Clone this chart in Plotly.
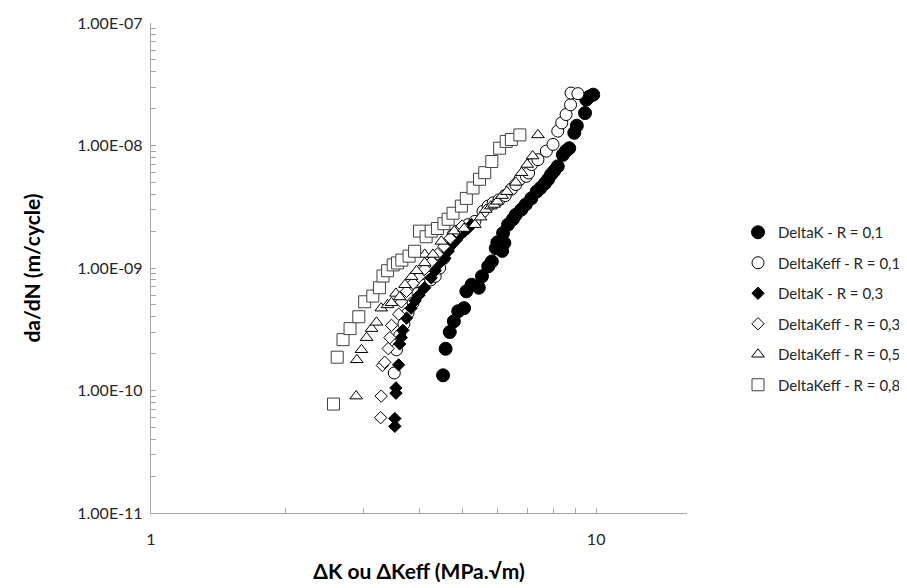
import math
import plotly.graph_objects as go

# ---- data ----
k01_x = [4.53,4.59,4.69,4.79,4.90,5.05,5.11,5.25,5.45,5.54,5.72,5.83,5.95,6.00,6.07,6.15,6.22,6.18,6.34,6.50,
         6.60,6.79,6.95,7.15,7.35,7.50,7.67,7.80,7.92,8.05,8.20,8.42,8.55,8.70,8.93,9.05,9.44,9.50,9.65,9.85]
k01_y = [1.33e-10,2.19e-10,3.0e-10,3.67e-10,4.44e-10,4.7e-10,6.45e-10,7.3e-10,6.9e-10,8.55e-10,1.03e-9,1.13e-9,
         1.45e-9,1.62e-9,1.55e-9,1.38e-9,1.6e-9,1.93e-9,2.26e-9,2.5e-9,2.72e-9,3.0e-9,3.3e-9,3.7e-9,4.2e-9,4.5e-9,
         4.9e-9,5.3e-9,5.8e-9,6.2e-9,6.76e-9,8.4e-9,9.0e-9,9.5e-9,1.27e-8,1.45e-8,1.84e-8,2.37e-8,2.5e-8,2.6e-8]

keff01_x = [3.52,3.56,3.62,3.70,3.78,3.88,3.98,4.10,4.25,4.35,4.45,4.55,4.65,4.77,4.90,5.00,5.16,5.34,5.57,5.72,
            5.87,6.05,6.25,6.45,6.60,6.74,6.97,7.05,7.16,7.40,7.73,8.00,8.20,8.37,8.56,8.76,8.78,9.10]
keff01_y = [1.39e-10,2.15e-10,2.8e-10,3.5e-10,4.3e-10,5.2e-10,6.2e-10,7.2e-10,8.0e-10,8.55e-10,1.0e-9,1.2e-9,
            1.45e-9,1.86e-9,2.0e-9,2.1e-9,2.26e-9,2.4e-9,2.9e-9,3.2e-9,3.4e-9,3.6e-9,3.9e-9,4.4e-9,4.8e-9,5.3e-9,
            5.6e-9,5.97e-9,7.0e-9,7.66e-9,9.0e-9,1.02e-8,1.31e-8,1.53e-8,1.79e-8,2.15e-8,2.68e-8,2.65e-8]

k03_x = [3.53,3.53,3.55,3.55,3.60,3.62,3.65,3.68,3.75,3.84,3.92,4.00,4.12,4.26,4.35,4.42,4.57,4.65,4.75,4.86,
         4.95,5.07,5.15,5.25]
k03_y = [5.1e-11,5.9e-11,9.5e-11,1.05e-10,1.62e-10,2.4e-10,2.7e-10,3.1e-10,3.9e-10,4.7e-10,5.4e-10,6.0e-10,
         6.9e-10,8.3e-10,9.5e-10,1.07e-9,1.2e-9,1.37e-9,1.55e-9,1.7e-9,1.85e-9,2.0e-9,2.1e-9,2.26e-9]

keff03_x = [3.28,3.29,3.31,3.35,3.41,3.44,3.47,3.60,3.65,3.75,3.88,4.00,4.12,4.27,4.40,4.55,4.70,4.85,5.00]
keff03_y = [6.0e-11,9.0e-11,1.6e-10,1.7e-10,2.2e-10,2.7e-10,3.4e-10,4.2e-10,5.3e-10,6.45e-10,7.5e-10,8.5e-10,
            9.8e-10,1.13e-9,1.3e-9,1.5e-9,1.75e-9,2.0e-9,2.2e-9]

keff05_x = [2.89,2.90,2.97,3.05,3.13,3.21,3.29,3.40,3.47,3.55,3.62,3.72,3.85,3.95,4.12,4.12,4.30,4.49,4.80,5.05,
            5.34,5.50,5.65,5.80,5.90,6.00,6.15,6.30,6.60,6.80,7.00,7.20,7.40]
keff05_y = [9.0e-11,1.78e-10,2.15e-10,2.7e-10,3.2e-10,3.6e-10,4.7e-10,5.0e-10,5.2e-10,6.2e-10,5.8e-10,7.3e-10,
            8.5e-10,9.5e-10,1.1e-9,1.29e-9,1.29e-9,1.65e-9,2.0e-9,2.1e-9,2.26e-9,2.6e-9,3.0e-9,3.2e-9,3.3e-9,
            3.5e-9,3.9e-9,4.2e-9,5.0e-9,6.0e-9,7.0e-9,8.2e-9,1.22e-8]

keff08_x = [2.57,2.62,2.70,2.80,2.93,3.02,3.15,3.26,3.32,3.40,3.50,3.58,3.66,3.80,3.91,4.01,4.15,4.26,4.40,4.55,
            4.65,4.77,4.98,5.11,5.29,5.47,5.62,5.83,6.07,6.28,6.45,6.74]
keff08_y = [7.75e-11,1.87e-10,2.6e-10,3.2e-10,4.0e-10,5.3e-10,5.9e-10,6.9e-10,8.6e-10,9.5e-10,1.06e-9,1.1e-9,
            1.16e-9,1.25e-9,1.37e-9,2.0e-9,1.8e-9,2.0e-9,2.1e-9,2.3e-9,2.5e-9,2.8e-9,3.2e-9,3.7e-9,4.5e-9,5.3e-9,
            6.0e-9,7.4e-9,9.5e-9,1.08e-8,1.12e-8,1.22e-8]

series_names = ["DeltaK - R = 0,1", "DeltaKeff - R = 0,1", "DeltaK - R = 0,3",
                "DeltaKeff - R = 0,3", "DeltaKeff - R = 0,5", "DeltaKeff - R = 0,8"]

y_tickvals = [1e-11, 1e-10, 1e-9, 1e-8, 1e-7]
y_ticktext = ["1.00E-11", "1.00E-10", "1.00E-09", "1.00E-08", "1.00E-07"]
x_tickvals = [1, 10]
x_ticktext = ["1", "10"]
x_max = 16

# ---- styles ----
styles = [
    dict(symbol="circle", size=13, color="black", line=dict(color="black", width=1)),
    dict(symbol="circle", size=12, color="white", line=dict(color="black", width=1)),
    dict(symbol="diamond", size=9.5, color="black", line=dict(color="black", width=1)),
    dict(symbol="diamond", size=9.5, color="white", line=dict(color="black", width=1)),
    dict(symbol="triangle-up", size=11, color="white", line=dict(color="black", width=1)),
    dict(symbol="square", size=12, color="white", line=dict(color="#404040", width=1)),
]
data = [(k01_x, k01_y), (keff01_x, keff01_y), (k03_x, k03_y),
        (keff03_x, keff03_y), (keff05_x, keff05_y), (keff08_x, keff08_y)]

fig = go.Figure()
for (xs, ys), name, st in zip(data, series_names, styles):
    fig.add_trace(go.Scatter(x=xs, y=ys, mode="markers", name=name, marker=st,
                             legendgroup=name))

FONT = "Lato, 'Liberation Sans', sans-serif"
axis_col = "#a6a6a6"

fig.update_layout(
    width=907, height=588,
    margin=dict(l=143, r=228, t=15, b=83),
    paper_bgcolor="white", plot_bgcolor="white",
    font=dict(family=FONT, size=16, color="#262626"),
    showlegend=True,
    legend=dict(xref="container", yref="container", x=730/907, y=1 - 208/588,
                xanchor="left", yanchor="top",
                font=dict(size=15, color="#262626"), itemwidth=30, tracegroupgap=8,
                bgcolor="rgba(0,0,0,0)"),
    xaxis=dict(type="log", range=[0, math.log10(x_max)], showgrid=False, zeroline=False,
               showline=True, linecolor=axis_col, linewidth=1.3, automargin=False,
               tickmode="array", tickvals=x_tickvals, ticktext=x_ticktext,
               ticks="inside", ticklen=5, tickcolor=axis_col, ticklabelstandoff=12,
               minor=dict(tickmode="linear", dtick="D1", ticks="inside", ticklen=5,
                          tickcolor=axis_col, showgrid=False),
               tickfont=dict(size=16, color="#262626"),
               title=dict(text="<b>ΔK ou ΔKeff (MPa.√m)</b>", font=dict(size=21, color="#000000"),
                          standoff=16)),
    yaxis=dict(type="log", range=[-11, -7], showgrid=False, zeroline=False,
               showline=True, linecolor=axis_col, linewidth=1.3, automargin=False,
               tickmode="array", tickvals=y_tickvals, ticktext=y_ticktext,
               ticks="inside", ticklen=5, tickcolor=axis_col, ticklabelstandoff=4,
               minor=dict(tickmode="linear", dtick="D1", ticks="inside", ticklen=5,
                          tickcolor=axis_col, showgrid=False),
               tickfont=dict(size=16, color="#262626"),
               title=dict(text="<b>da/dN (m/cycle)</b>", font=dict(size=21, color="#000000"),
                          standoff=30)),
)

fig.write_html("out.html")
